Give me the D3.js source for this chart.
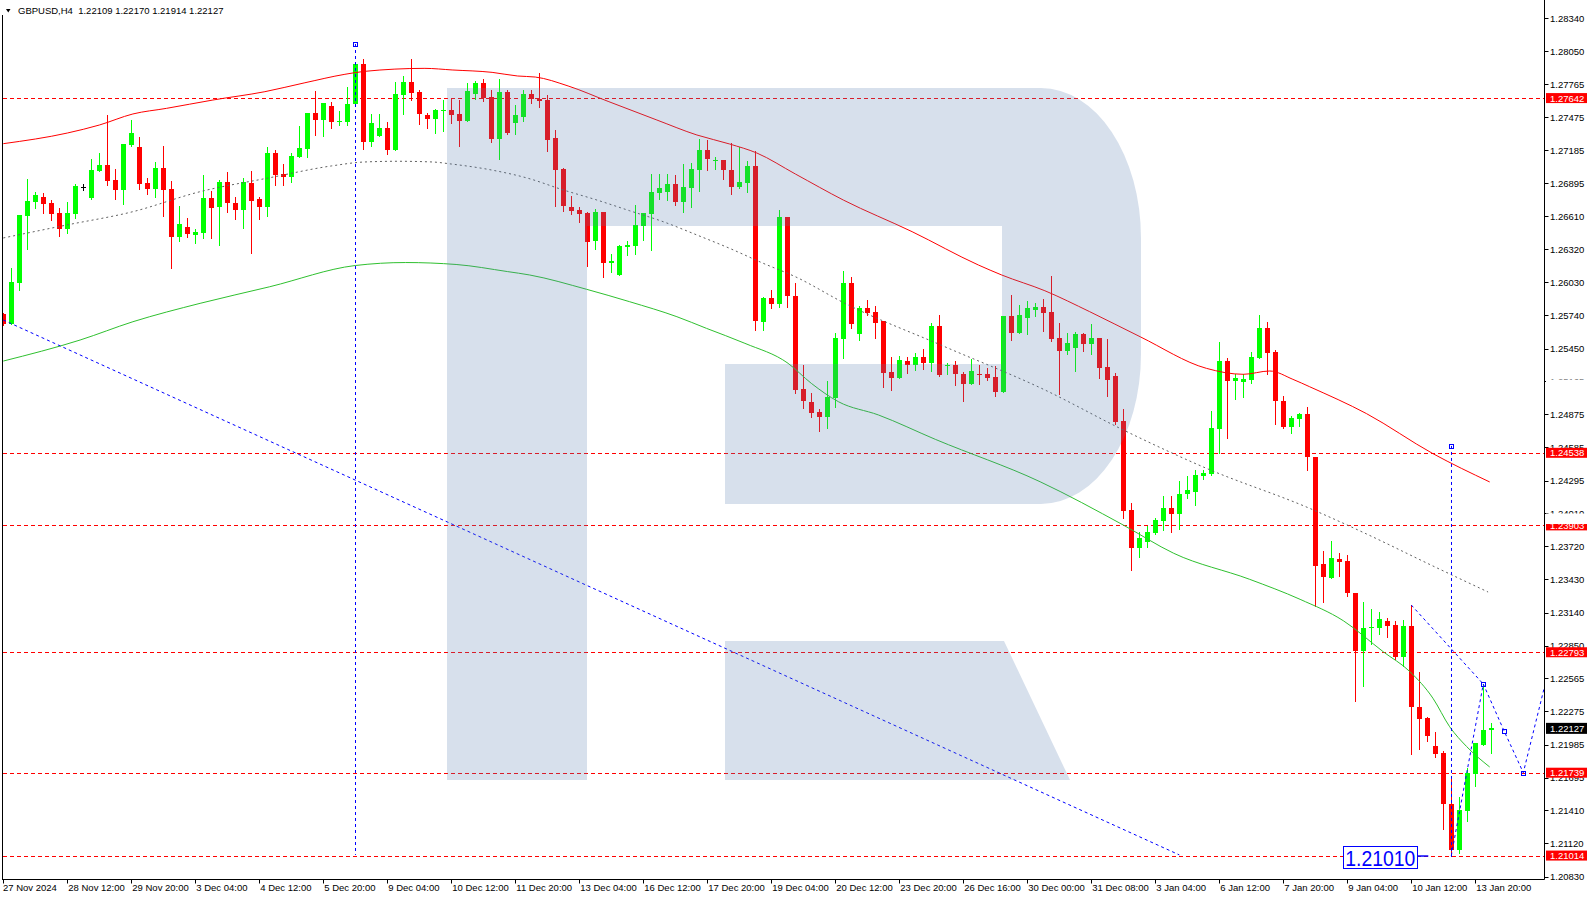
<!DOCTYPE html>
<html><head><meta charset="utf-8">
<script src="https://cdnjs.cloudflare.com/ajax/libs/d3/7.8.5/d3.min.js"></script>
<style>
html,body{margin:0;padding:0;background:#fff;overflow:hidden}
svg{display:block}
text{font-family:"Liberation Sans",Arial,sans-serif}
</style></head><body>
<svg id="chart" width="1590" height="900"></svg>
<script>
const symbol = "GBPUSD", timeframe = "H4";

const opens = [
1.25753,1.25665,1.26026,1.26613,1.26735,1.26776,1.26724,1.26636,1.26499,1.26630,
1.26866,1.26770,1.27006,1.27056,1.26925,1.26840,1.27231,1.27214,1.26899,1.26849,
1.27030,1.26846,1.26429,1.26514,1.26446,1.26464,1.26768,1.26691,1.26910,1.26724,
1.26665,1.26899,1.26759,1.26691,1.27161,1.26978,1.26951,1.27126,1.27196,1.27511,
1.27450,1.27573,1.27433,1.27433,1.27590,1.27940,1.27258,1.27310,1.27380,1.27188,
1.27669,1.27783,1.27695,1.27494,1.27459,1.27529,1.27538,1.27503,1.27441,1.27678,
1.27774,1.27651,1.27284,1.27695,1.27424,1.27476,1.27678,1.27634,1.27625,1.27293,
1.27021,1.26689,1.26663,1.26636,1.26391,1.26645,1.26199,1.26094,1.26339,1.26348,
1.26523,1.26628,1.26811,1.26820,1.26890,1.26733,1.26855,1.27013,1.27188,1.27091,
1.27100,1.27013,1.26864,1.26899,1.27048,1.25683,1.25893,1.25840,1.26601,1.25910,
1.25096,1.24983,1.24895,1.24851,1.25018,1.25534,1.26024,1.25578,1.25805,1.25770,
1.25691,1.25245,1.25193,1.25341,1.25306,1.25376,1.25324,1.25648,1.25298,1.25306,
1.25228,1.25140,1.25228,1.25228,1.25201,1.25070,1.25735,1.25586,1.25718,1.25788,
1.25814,1.25770,1.25543,1.25429,1.25455,1.25578,1.25490,1.25543,1.25289,1.25210,
1.24816,1.24038,1.23705,1.23758,1.23836,1.23941,1.24055,1.24003,1.24178,1.24195,
1.24335,1.24353,1.24746,1.25341,1.25166,1.25158,1.25175,1.25368,1.25630,1.25420,
1.24991,1.24764,1.24834,1.24878,1.24501,1.23565,1.23447,1.23612,1.23591,1.23311,
1.22804,1.23005,1.23001,1.23066,1.23031,1.22751,1.23023,1.22314,1.22218,1.21973,
1.21911,1.21465,1.21063,1.21404,1.21728,1.21981,1.22109];

const highs = [
1.25761,1.26155,1.26619,1.26934,1.26820,1.26811,1.26750,1.26680,1.26733,1.26890,
1.26894,1.27109,1.27161,1.27494,1.27021,1.27240,1.27450,1.27304,1.26940,1.27085,
1.27225,1.26919,1.26698,1.26593,1.26499,1.26969,1.26829,1.26925,1.26998,1.26779,
1.26943,1.27006,1.26779,1.27214,1.27188,1.27065,1.27161,1.27398,1.27511,1.27704,
1.27599,1.27608,1.27529,1.27739,1.27958,1.27984,1.27503,1.27503,1.27433,1.27783,
1.27835,1.27984,1.27713,1.27511,1.27546,1.27625,1.27643,1.27625,1.27774,1.27791,
1.27809,1.27713,1.27809,1.27713,1.27581,1.27713,1.27713,1.27861,1.27669,1.27363,
1.27030,1.26785,1.26689,1.26645,1.26671,1.26645,1.26278,1.26356,1.26391,1.26706,
1.26636,1.26978,1.26978,1.26978,1.26969,1.27065,1.27074,1.27284,1.27275,1.27126,
1.27100,1.27249,1.27214,1.27091,1.27179,1.25901,1.25963,1.26663,1.26601,1.26024,
1.25306,1.25061,1.24921,1.25166,1.25586,1.26129,1.26076,1.25823,1.25875,1.25823,
1.25691,1.25376,1.25385,1.25376,1.25411,1.25446,1.25674,1.25744,1.25324,1.25341,
1.25245,1.25359,1.25306,1.25280,1.25298,1.25735,1.25919,1.25831,1.25866,1.25849,
1.25884,1.26085,1.25674,1.25586,1.25595,1.25586,1.25665,1.25543,1.25534,1.25236,
1.24921,1.24099,1.23845,1.23898,1.23968,1.24160,1.24160,1.24291,1.24335,1.24388,
1.24388,1.24904,1.25508,1.25368,1.25228,1.25228,1.25420,1.25744,1.25683,1.25438,
1.25035,1.24860,1.24886,1.24939,1.24501,1.23679,1.23766,1.23661,1.23644,1.23311,
1.23233,1.23171,1.23145,1.23097,1.23066,1.23075,1.23206,1.22620,1.22226,1.22095,
1.21929,1.21687,1.21526,1.21780,1.21999,1.22515,1.22170];

const lows = [
1.25656,1.25665,1.25963,1.26324,1.26683,1.26639,1.26578,1.26438,1.26464,1.26595,
1.26837,1.26761,1.27006,1.26884,1.26761,1.26712,1.27225,1.26849,1.26800,1.26779,
1.26613,1.26158,1.26394,1.26429,1.26376,1.26420,1.26420,1.26359,1.26648,1.26586,
1.26508,1.26289,1.26586,1.26613,1.26881,1.26881,1.26908,1.27126,1.27126,1.27319,
1.27310,1.27380,1.27406,1.27406,1.27590,1.27196,1.27223,1.27310,1.27153,1.27188,
1.27503,1.27625,1.27415,1.27380,1.27336,1.27354,1.27424,1.27223,1.27441,1.27634,
1.27616,1.27258,1.27109,1.27328,1.27328,1.27441,1.27599,1.27564,1.27179,1.26698,
1.26654,1.26628,1.26558,1.26173,1.26321,1.26076,1.26120,1.26094,1.26269,1.26278,
1.26400,1.26313,1.26759,1.26750,1.26706,1.26645,1.26689,1.26829,1.27013,1.27021,
1.26934,1.26803,1.26855,1.26820,1.25613,1.25613,1.25805,1.25814,1.25814,1.25061,
1.24930,1.24851,1.24729,1.24755,1.24939,1.25368,1.25630,1.25525,1.25744,1.25543,
1.25114,1.25088,1.25193,1.25236,1.25263,1.25271,1.25254,1.25210,1.25228,1.25131,
1.24991,1.25140,1.25140,1.25175,1.25035,1.25070,1.25525,1.25586,1.25578,1.25735,
1.25604,1.25516,1.25053,1.25403,1.25254,1.25429,1.25403,1.25193,1.25035,1.24790,
1.23968,1.23513,1.23626,1.23714,1.23828,1.23863,1.23845,1.23871,1.24143,1.24081,
1.24309,1.24344,1.24536,1.24668,1.25009,1.25026,1.25149,1.25368,1.25228,1.24790,
1.24755,1.24711,1.24773,1.24388,1.23198,1.23233,1.23447,1.23460,1.23285,1.22366,
1.22498,1.22865,1.22956,1.22926,1.22734,1.22673,1.21906,1.21946,1.22016,1.21876,
1.21250,1.21010,1.21040,1.21316,1.21623,1.21981,1.21914];

const closes = [
1.25665,1.26033,1.26619,1.26741,1.26794,1.26718,1.26630,1.26499,1.26636,1.26873,
1.26866,1.27013,1.27056,1.26919,1.26840,1.27240,1.27336,1.26893,1.26849,1.27030,
1.26840,1.26429,1.26540,1.26455,1.26470,1.26768,1.26683,1.26910,1.26726,1.26665,
1.26908,1.26744,1.26691,1.27161,1.26969,1.26951,1.27135,1.27205,1.27511,1.27450,
1.27599,1.27433,1.27441,1.27590,1.27940,1.27258,1.27424,1.27380,1.27188,1.27678,
1.27783,1.27686,1.27503,1.27459,1.27538,1.27538,1.27494,1.27441,1.27704,1.27774,
1.27643,1.27284,1.27695,1.27336,1.27494,1.27678,1.27634,1.27616,1.27275,1.27013,
1.26698,1.26654,1.26628,1.26383,1.26645,1.26199,1.26216,1.26348,1.26356,1.26531,
1.26636,1.26820,1.26855,1.26890,1.26733,1.26864,1.27021,1.27188,1.27109,1.27100,
1.27013,1.26864,1.26908,1.27048,1.25691,1.25893,1.25840,1.26601,1.25910,1.25088,
1.24991,1.24886,1.24851,1.25026,1.25543,1.26024,1.25665,1.25805,1.25761,1.25674,
1.25236,1.25193,1.25350,1.25306,1.25376,1.25324,1.25648,1.25219,1.25306,1.25228,
1.25140,1.25254,1.25219,1.25193,1.25070,1.25735,1.25586,1.25744,1.25805,1.25814,
1.25761,1.25534,1.25429,1.25499,1.25578,1.25490,1.25543,1.25280,1.25175,1.24808,
1.24029,1.23705,1.23793,1.23845,1.23950,1.24055,1.24003,1.24178,1.24213,1.24344,
1.24361,1.24755,1.25341,1.25166,1.25193,1.25184,1.25376,1.25630,1.25411,1.24991,
1.24764,1.24843,1.24878,1.24501,1.23548,1.23451,1.23622,1.23583,1.23311,1.22804,
1.23005,1.23014,1.23084,1.23023,1.22751,1.23023,1.22314,1.22212,1.22060,1.21906,
1.21465,1.21063,1.21413,1.21736,1.21999,1.22113,1.22127];

const tickBars = [0,8,16,24,32,40,48,56,64,72,80,88,96,104,112,120,128,136,144,152,160,168,176,184];
const tickLabels = ["27 Nov 2024","28 Nov 12:00","29 Nov 20:00","3 Dec 04:00","4 Dec 12:00","5 Dec 20:00",
"9 Dec 04:00","10 Dec 12:00","11 Dec 20:00","13 Dec 04:00","16 Dec 12:00","17 Dec 20:00","19 Dec 04:00",
"20 Dec 12:00","23 Dec 20:00","26 Dec 16:00","30 Dec 00:00","31 Dec 08:00","3 Jan 04:00","6 Jan 12:00",
"7 Jan 20:00","9 Jan 04:00","10 Jan 12:00","13 Jan 20:00"];

const priceTicks = [1.28340,1.28050,1.27765,1.27475,1.27185,1.26895,1.26610,1.26320,1.26030,1.25740,
1.25450,1.25165,1.24875,1.24585,1.24295,1.24010,1.23720,1.23430,1.23140,1.22850,1.22565,1.22275,
1.21985,1.21695,1.21410,1.21120,1.20830];

const levels = [1.27642,1.24538,1.23903,1.22793,1.21739,1.21014];
const lastPrice = 1.22127;

const redMA = [[0,1.27243],[8,1.27336],[12,1.27406],[16.2,1.27503],[20.4,1.27552],[26.2,1.27625],[32.7,1.27698],
[37.7,1.27776],[42.7,1.27850],[45.2,1.27876],[52.7,1.27902],[56.1,1.27888],[61.1,1.27867],[64.3,1.27835],
[66.5,1.27826],[70.6,1.27748],[75.6,1.27613],[81.7,1.27450],[86.7,1.27319],[90.8,1.27240],[94.2,1.27161],
[99,1.26978],[105,1.26750],[113.6,1.26473],[121.9,1.26181],[124.8,1.26094],[130.2,1.25956],[135.8,1.25773],
[142.1,1.25554],[150.4,1.25277],[155,1.25225],[158.3,1.25254],[161.2,1.25181],[163.3,1.25116],[170.4,1.24881],
[178.7,1.24531],[185.8,1.24283]];

const grayMA = [[0,1.26418],[7.9,1.26531],[16.2,1.26648],[24.6,1.26823],[33.3,1.26945],[41,1.27048],[45.2,1.27083],
[49.3,1.27089],[53.6,1.27083],[56,1.27065],[61,1.27013],[65.6,1.26940],[70,1.26838],[74.2,1.26750],[78.3,1.26656],
[82.5,1.26560],[86.7,1.26444],[90.8,1.26327],[95,1.26196],[99,1.26079],[105.2,1.25846],[117.7,1.25466],
[130.2,1.25088],[140,1.24738],[150.4,1.24402],[163.3,1.24052],[170.4,1.23828],[178.7,1.23548],[185.6,1.23320]];

const greenMA = [[0,1.25341],[9.6,1.25525],[16.2,1.25685],[24.6,1.25846],[33.3,1.25991],[44,1.26177],[50.3,1.26203],
[56.6,1.26186],[63,1.26124],[65.8,1.26094],[72.9,1.25969],[78.3,1.25860],[84.2,1.25729],[87.9,1.25627],
[92.7,1.25496],[98.1,1.25321],[101,1.25146],[104.4,1.24985],[109.4,1.24869],[116.5,1.24656],[129.6,1.24285],
[140,1.23906],[146.3,1.23659],[155.8,1.23431],[162.1,1.23256],[167.5,1.23069],[172.5,1.22797],[175.8,1.22625],
[178.7,1.22391],[180.8,1.22141],[182.9,1.21969],[185.8,1.21789]];

const diagLine = [[0,1.25700],[147,1.21020]];
const vLines = [{bar:44, top:1.28115, bottom:1.21020},{bar:181, top:1.24598, bottom:1.21000}];
const projDown = [[176,1.23206],[185,1.22515]];
const projUp = [[181,1.21014],[185,1.22515]];
const projForward = [[185,1.22515],[187.6,1.22104],[190,1.21739],[192.75,1.22520]];
const anchors = [[44,1.28115],[181,1.24598],[185,1.22515],[187.6,1.22104],[190,1.21739]];
const note = {bar:181, price:1.21010, text:"1.21010"};

// ---------------------------------------------------------------
const svg = d3.select("#chart");
const xS = d3.scaleLinear().domain([0,192]).range([3.3,1539.3]);
const yS = d3.scaleLinear().domain([1.20830,1.28340]).range([876.6,18.3]);
const PR = 1544.5, PB = 879.5;
const px = v => Math.round(v) + 0.5;

svg.append("rect").attr("width",1590).attr("height",900).attr("fill","#fff");
svg.append("defs").append("clipPath").attr("id","plot")
  .append("rect").attr("x",3).attr("y",0).attr("width",PR-3.5).attr("height",PB-0.5);
const g = svg.append("g").attr("clip-path","url(#plot)");

// horizontal levels
g.selectAll("line.lvl").data(levels).join("line").attr("class","lvl")
  .attr("x1",3).attr("x2",PR).attr("y1",d=>px(yS(d))).attr("y2",d=>px(yS(d)))
  .attr("stroke","#ff0000").attr("stroke-width",1).attr("stroke-dasharray","4,3");

// candles
const data = opens.map((o,i)=>({i,o,h:highs[i],l:lows[i],c:closes[i]}));
const col = d => d.c>d.o ? "#00ff00" : (d.c<d.o ? "#ff0000" : "#000000");
g.selectAll("line.wick").data(data).join("line").attr("class","wick")
  .attr("x1",d=>Math.round(xS(d.i))+0.5).attr("x2",d=>Math.round(xS(d.i))+0.5)
  .attr("y1",d=>Math.round(yS(d.h))).attr("y2",d=>Math.round(yS(d.l))+1)
  .attr("stroke",col).attr("stroke-width",1);
g.selectAll("rect.body").data(data).join("rect").attr("class","body")
  .attr("x",d=>Math.round(xS(d.i))-2).attr("width",5)
  .attr("y",d=>Math.round(Math.min(yS(d.o),yS(d.c))))
  .attr("height",d=>Math.max(1,Math.round(Math.abs(yS(d.o)-yS(d.c)))))
  .attr("fill",col);

// moving averages
const lineGen = d3.line().x(d=>xS(d[0])).y(d=>yS(d[1])).curve(d3.curveMonotoneX);
g.append("path").datum(greenMA).attr("d",lineGen).attr("fill","none").attr("stroke","#2fc02f").attr("stroke-width",1);
g.append("path").datum(grayMA).attr("d",lineGen).attr("fill","none").attr("stroke","#606060").attr("stroke-width",1).attr("stroke-dasharray","2,3");
g.append("path").datum(redMA).attr("d",lineGen).attr("fill","none").attr("stroke","#ff0000").attr("stroke-width",1);

// blue analysis objects
const straight = d3.line().x(d=>xS(d[0])).y(d=>yS(d[1]));
[diagLine, projDown, projUp, projForward].forEach(pts=>{
  g.append("path").datum(pts).attr("d",straight).attr("fill","none")
   .attr("stroke","#0000ff").attr("stroke-width",1).attr("stroke-dasharray","3,3");
});
g.selectAll("line.vl").data(vLines).join("line").attr("class","vl")
  .attr("x1",d=>Math.round(xS(d.bar))+0.5).attr("x2",d=>Math.round(xS(d.bar))+0.5)
  .attr("y1",d=>yS(d.top)).attr("y2",d=>yS(d.bottom))
  .attr("stroke","#0000ff").attr("stroke-width",1).attr("stroke-dasharray","3,3");
g.selectAll("rect.anc").data(anchors).join("rect").attr("class","anc")
  .attr("x",d=>Math.round(xS(d[0]))-2+0.5).attr("y",d=>Math.round(yS(d[1]))-2+0.5)
  .attr("width",4).attr("height",4).attr("fill","none").attr("stroke","#0000ff").attr("stroke-width",1);

// note label
const nx = xS(note.bar), ny = yS(note.price);
g.append("line").attr("x1",nx-34).attr("x2",nx-23).attr("y1",ny).attr("y2",ny)
  .attr("stroke","#0000ff").attr("stroke-width",1.5);
g.append("rect").attr("x",Math.round(nx-108)+0.5).attr("y",Math.round(ny-10)+0.5)
  .attr("width",74).attr("height",22).attr("fill","#fff").attr("stroke","#0000ff");
g.append("text").attr("x",nx-106).attr("y",ny+9.5).attr("font-size",22)
  .attr("textLength",70).attr("lengthAdjust","spacingAndGlyphs")
  .attr("fill","#0000ff").text(note.text);

// watermark logo (translucent overlay)
g.append("path")
  .attr("d","M447,88 H1041 A100,150 0 0 1 1141,238 V354 A100,150 0 0 1 1041,504 H725 V364 H1002 V226 H587 V780 H447 Z M725,641 H1004 L1070,780 H725 Z")
  .attr("fill","rgb(88,125,174)").attr("opacity",0.24);

// frame
svg.append("line").attr("x1",2.5).attr("x2",2.5).attr("y1",15).attr("y2",PB).attr("stroke","#000");
svg.append("line").attr("x1",2).attr("x2",PR).attr("y1",PB).attr("y2",PB).attr("stroke","#000");
svg.append("line").attr("x1",PR).attr("x2",PR).attr("y1",0).attr("y2",PB).attr("stroke","#000");

// price axis
const pa = svg.append("g");
pa.selectAll("line").data(priceTicks).join("line")
  .attr("x1",PR).attr("x2",PR+4).attr("y1",d=>px(yS(d))).attr("y2",d=>px(yS(d))).attr("stroke","#000");
pa.selectAll("text").data(priceTicks).join("text")
  .attr("x",1550).attr("y",d=>yS(d)+3.5).attr("font-size",9.5).attr("fill","#000")
  .text(d=>d.toFixed(5));

// level price boxes
const lb = svg.append("g");
lb.selectAll("rect").data(levels).join("rect")
  .attr("x",1546).attr("width",41).attr("y",d=>yS(d)-5).attr("height",10).attr("fill","#ff0000");
lb.selectAll("text").data(levels).join("text")
  .attr("x",1550).attr("y",d=>yS(d)+3.5).attr("font-size",9.5).attr("fill","#fff").text(d=>d.toFixed(5));
svg.append("rect").attr("x",1546).attr("width",41).attr("y",yS(lastPrice)-5.5).attr("height",11).attr("fill","#000");
svg.append("text").attr("x",1550).attr("y",yS(lastPrice)+3.5).attr("font-size",9.5).attr("fill","#fff").text(lastPrice.toFixed(5));
// partially hidden labels (covered by invisible object labels)
svg.append("rect").attr("x",1546).attr("width",42).attr("y",379.5).attr("height",9).attr("fill","#fff");
svg.append("rect").attr("x",1546).attr("width",42).attr("y",513.5).attr("height",10.5).attr("fill","#fff");

// time axis
const ta = svg.append("g");
ta.selectAll("line").data(tickBars).join("line")
  .attr("x1",d=>Math.round(xS(d))+0.5).attr("x2",d=>Math.round(xS(d))+0.5)
  .attr("y1",PB).attr("y2",PB+4).attr("stroke","#000");
ta.selectAll("text").data(tickBars).join("text")
  .attr("x",(d,i)=> i===0 ? 3 : xS(d)+1).attr("y",891).attr("font-size",9.5).attr("fill","#000")
  .text((d,i)=>tickLabels[i]);

// title
const last = data[data.length-1];
svg.append("rect").attr("x",0).attr("y",0).attr("width",225).attr("height",15).attr("fill","#fff");
svg.append("path").attr("d","M6,9 L10.5,9 L8.25,12.5 Z").attr("fill","#000");
svg.append("text").attr("x",18).attr("y",14).attr("font-size",9.5).attr("fill","#000")
  .style("white-space","pre")
  .text(`${symbol},${timeframe}  ${last.o.toFixed(5)} ${last.h.toFixed(5)} ${last.l.toFixed(5)} ${last.c.toFixed(5)}`);
</script>
</body></html>
